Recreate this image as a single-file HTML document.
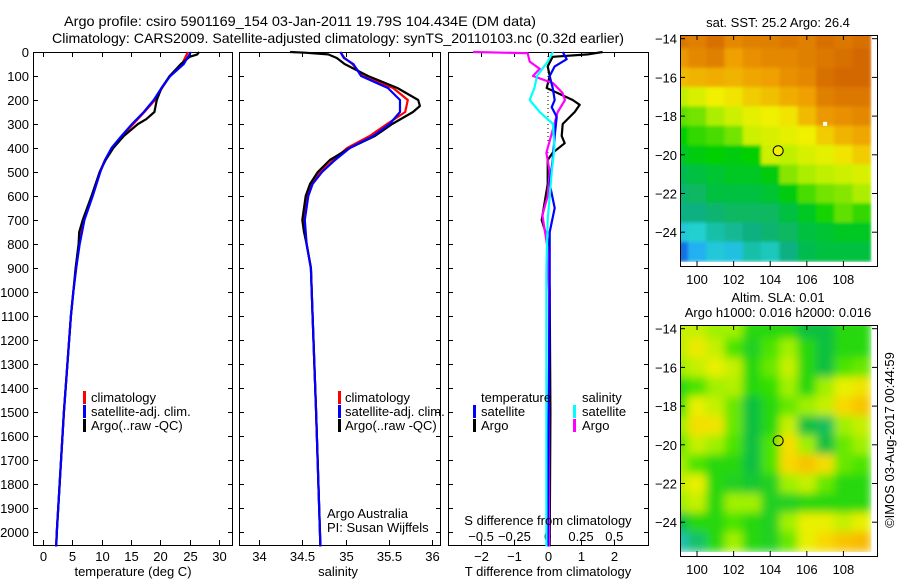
<!DOCTYPE html>
<html><head><meta charset="utf-8"><style>
html,body{margin:0;padding:0;background:#fff;}
svg{display:block;font-family:"Liberation Sans",sans-serif;}
text{font-size:13px;fill:#000;}
</style></head><body>
<svg id="s" width="900" height="580" viewBox="0 0 900 580" xmlns="http://www.w3.org/2000/svg">
<defs>
<filter id="b1" x="0" y="0" width="1" height="1"><feGaussianBlur stdDeviation="1.5" edgeMode="duplicate"/></filter>
<filter id="b2" x="0" y="0" width="1" height="1"><feGaussianBlur stdDeviation="4.5" edgeMode="duplicate"/></filter>
<clipPath id="cm1"><rect x="680" y="35" width="197" height="231"/></clipPath>
<clipPath id="cm2"><rect x="680" y="325" width="197" height="231"/></clipPath>
</defs>
<text x="300" y="26" text-anchor="middle" textLength="472" lengthAdjust="spacingAndGlyphs" style="font-size:14px">Argo profile: csiro 5901169_154 03-Jan-2011 19.79S 104.434E (DM data)</text>
<text x="338" y="43" text-anchor="middle" textLength="572" lengthAdjust="spacingAndGlyphs" style="font-size:14px">Climatology: CARS2009. Satellite-adjusted climatology: synTS_20110103.nc (0.32d earlier)</text>
<g id="g"></g>
</svg>
<script>
// ---- data ----
const depthTicks=[0,100,200,300,400,500,600,700,800,900,1000,1100,1200,1300,1400,1500,1600,1700,1800,1900,2000];
const tempTicks=[0,5,10,15,20,25,30];
const salTicks=[34,34.5,35,35.5,36];
const tdTicks=[-2,-1,0,1,2];
const sdTicks=[-0.5,-0.25,0,0.25,0.5];
const climTDepth=[0,50,100,150,200,250,300,350,400,450,500,600,700,800,900,1000,1100,1500,2000,2060];
const climTemp=[24.7,23.7,21.6,20.3,19.1,17.3,15.4,13.5,11.8,10.6,9.7,8.4,6.9,6.2,5.7,5.2,4.8,3.6,2.4,2.3];
const satTemp=[25.2,24.0,21.7,20.2,18.9,17.2,15.2,13.4,11.7,10.6,9.8,8.5,7.1,6.3,5.7,5.2,4.8,3.6,2.4,2.3];
const argoTDepth=[0,10,20,50,100,150,200,250,280,300,350,400,450,500,600,700,750,800,900,1000,1100,1500,2000,2060];
const argoTemp=[26.6,26.3,25.0,23.5,21.6,20.2,19.4,19.0,17.6,16.2,13.8,12.0,10.7,9.7,8.3,6.8,6.2,6.1,5.6,5.2,4.8,3.6,2.4,2.3];
const climSDepth=[0,25,50,100,150,200,250,300,350,400,450,500,550,600,700,800,900,1100,1500,2060];
const climSal=[34.94,34.99,35.08,35.20,35.55,35.72,35.69,35.48,35.28,35.02,34.86,34.71,34.61,34.55,34.52,34.55,34.60,34.62,34.66,34.71];
const satSal=[34.94,34.98,35.09,35.18,35.49,35.63,35.63,35.51,35.32,35.05,34.88,34.73,34.62,34.57,34.53,34.55,34.60,34.62,34.66,34.71];
const argoSDepth=[0,3,10,25,50,100,150,200,225,250,300,350,400,450,500,550,600,700,750,800,900,1100,1500,2060];
const argoSal=[34.36,34.53,34.80,34.90,34.99,35.26,35.60,35.84,35.86,35.78,35.54,35.34,35.05,34.82,34.68,34.59,34.54,34.50,34.52,34.55,34.60,34.62,34.66,34.71];
const tdArgoDepth=[0,10,20,60,100,150,200,220,250,300,350,380,420,450,550,650,700,780,1000,1500,2060];
const tdArgo=[1.65,1.2,0.15,0,0.06,-0.03,0.75,0.96,0.81,0.45,0.42,0.51,0.15,0,0,-0.12,-0.18,0,0.06,0.08,0.06];
const tdSatDepth=[0,30,60,100,150,200,230,270,350,450,550,650,750,1000,1500,2060];
const tdSat=[0.45,0.57,0.21,0.06,0.15,0.21,0.12,0.27,0.21,0.15,0.06,0.21,0.06,0.06,0.03,0.0];
const sdArgoDepth=[0,5,40,70,100,130,170,200,250,300,400,420,500,600,680,750,820,1000,1500,2060];
const sdArgo=[-0.56,-0.15,-0.135,-0.06,-0.11,0.04,0.11,0.13,0.075,0.05,0,-0.01,0.015,0,-0.04,-0.02,0,0.01,0.01,0.01];
const sdSatDepth=[0,40,100,150,200,250,300,400,500,700,900,1500,2060];
const sdSat=[0.04,0,-0.08,-0.1,-0.135,-0.06,0.04,0.05,0.03,0,-0.01,-0.01,-0.01];
const latTicks=[-14,-16,-18,-20,-22,-24];
const lonTicks=[100,102,104,106,108];
// SST grid rows lat -14..-25 (1 deg), cols lon 99..109
const sstGrid=[
[27.1,27.0,27.2,26.9,27.0,27.0,27.1,27.0,27.2,27.1,27.2],
[26.7,26.9,27.0,26.6,26.8,26.9,26.9,27.0,27.1,27.2,27.3],
[26.2,26.3,26.4,26.3,26.5,26.6,26.8,26.9,27.2,27.3,27.3],
[25.3,25.5,25.7,25.8,26.0,26.1,26.4,26.6,27.0,27.1,27.1],
[24.8,24.9,25.2,25.4,25.6,25.7,25.8,26.2,26.7,26.8,26.9],
[24.4,24.6,24.7,24.9,25.4,25.5,25.6,25.7,26.0,26.3,26.5],
[24.2,24.3,24.4,24.3,24.4,25.4,25.3,25.5,25.6,25.8,26.0],
[23.9,24.0,24.1,24.2,24.2,24.3,25.0,25.2,25.3,25.4,25.5],
[23.7,23.8,24.0,24.0,24.0,24.1,24.3,24.7,24.9,25.0,25.2],
[23.6,23.6,23.7,23.8,23.8,23.8,24.0,24.2,24.5,24.8,24.6],
[23.1,23.2,23.4,23.5,23.6,23.7,23.8,24.0,24.1,24.2,24.2],
[22.4,22.8,23.1,23.0,23.4,23.3,23.6,23.9,24.0,24.0,24.0]];
const slaGrid=[
[1.0,1.0,0.8,0.8,0.3,0.3,0.3,0.0,0.0,0.3,0.3],
[1.0,1.3,1.0,0.5,0.2,0.5,0.8,0.3,0.0,0.3,0.3],
[0.8,1.0,1.2,1.0,0.3,0.6,1.0,0.3,0.0,0.5,0.6],
[0.3,0.5,0.8,0.9,0.3,0.4,0.8,0.3,0.8,1.2,1.4],
[0.5,1.2,1.0,0.6,0.0,0.3,0.6,0.8,1.0,1.6,1.8],
[0.8,1.5,1.4,0.6,0.0,0.3,1.0,0.0,-0.2,0.8,1.0],
[0.6,1.0,0.8,0.5,0.0,0.5,1.5,0.8,0.0,0.6,0.8],
[0.8,0.5,0.3,0.3,0.0,0.5,1.6,1.8,1.5,0.6,0.5],
[1.0,1.2,0.3,0.2,0.1,0.2,0.8,1.0,0.6,0.3,0.3],
[0.8,1.0,0.3,0.8,0.8,0.2,0.2,0.3,0.3,0.3,0.3],
[0.0,0.3,0.3,0.5,0.3,0.2,0.8,1.2,1.2,1.0,1.2],
[-0.8,-0.3,0.3,0.8,0.3,0.2,0.6,1.2,1.6,1.8,1.9]];

// ---- helpers ----
const NS='http://www.w3.org/2000/svg';
const G=document.getElementById('g');
function mk(tag,at,parent){const e=document.createElementNS(NS,tag);for(const k in at)e.setAttribute(k,at[k]);(parent||G).appendChild(e);return e;}
function txt(x,y,s,anchor,extra){const e=mk('text',Object.assign({x:x,y:y,'text-anchor':anchor||'start'},extra||{}));e.textContent=s;return e;}
const TOP=52,BOT=545;
const yD=d=>TOP+d*0.24;
const xT=v=>42.7+v*5.88;
const xS=v=>259+(v-34)*86.5;
const xTD=v=>547.7+v*33.3;
const xSD=v=>547.7+v*133.2;
function line(xs,ds,fx,col,name){
  const pts=xs.map((v,i)=>fx(v).toFixed(1)+','+yD(ds[i]).toFixed(1)).join(' ');
  const p=mk('polyline',{points:pts,fill:'none',stroke:col,'stroke-width':2.2,'stroke-linejoin':'round'});
  
  
}
function frame(x0,x1,name){
  const r=mk('rect',{x:x0+0.5,y:TOP+0.5,width:x1-x0,height:BOT-TOP,fill:'none',stroke:'#000','stroke-width':1});
  
  
  depthTicks.forEach(d=>{mk('line',{x1:x0,x2:x0+5,y1:yD(d)+0.5,y2:yD(d)+0.5,stroke:'#000'});mk('line',{x1:x1-4,x2:x1+1,y1:yD(d)+0.5,y2:yD(d)+0.5,stroke:'#000'});});
}
function xticks(vals,fx,labY,fmt,name){
  vals.forEach(v=>{const x=Math.round(fx(v))+0.5;
    mk('line',{x1:x,x2:x,y1:BOT,y2:BOT-5,stroke:'#000'});mk('line',{x1:x,x2:x,y1:TOP,y2:TOP+5,stroke:'#000'});
    const t=txt(x,labY,fmt?fmt(v):String(v),'middle');
    
    });
}
depthTicks.forEach(d=>{const t=txt(29,yD(d)+5,String(d),'end');
  
  });

// temperature panel
frame(33,232,'temperature-panel-frame');
xticks(tempTicks,xT,561,null,'temperature-tick-label');
line(climTemp,climTDepth,xT,'#f00','temperature-climatology-line');
line(argoTemp,argoTDepth,xT,'#000','temperature-argo-line');
line(satTemp,climTDepth,xT,'#00f','temperature-satellite-line');
{const t=txt(133,576,'temperature (deg C)','middle');}

// salinity panel
frame(239,440,'salinity-panel-frame');
xticks(salTicks,xS,561,null,'salinity-tick-label');
line(climSal,climSDepth,xS,'#f00','salinity-climatology-line');
line(argoSal,argoSDepth,xS,'#000','salinity-argo-line');
line(satSal,climSDepth,xS,'#00f','salinity-satellite-line');
{const t=txt(338,576,'salinity','middle');}

function leg(mx,tx,y,col,label,name){
  const r=mk('rect',{x:mx,y:y-11,width:3,height:13,fill:col});
  
  
  const t=txt(tx,y,label,'start');
  
  
}
leg(83,91,402,'#f00','climatology','temp-legend-climatology');
leg(83,91,416,'#00f','satellite-adj. clim.','temp-legend-satellite');
leg(83,91,430,'#000','Argo(..raw -QC)','temp-legend-argo');
leg(338,345,402,'#f00','climatology','sal-legend-climatology');
leg(338,345,416,'#00f','satellite-adj. clim.','sal-legend-satellite');
leg(338,345,430,'#000','Argo(..raw -QC)','sal-legend-argo');
{const t=txt(327,518,'Argo Australia');}
{const t=txt(327,532,'PI: Susan Wijffels');}

// difference panel
frame(448,648,'difference-panel-frame');
xticks(tdTicks,xTD,561,v=>v<0?'\u2212'+(-v):String(v),'t-difference-tick-label');
sdTicks.forEach(v=>{const t=txt(xSD(v),541,v<0?'\u2212'+(-v):String(v),'middle');});
mk('line',{x1:548,x2:548,y1:TOP,y2:yD(420),stroke:'#000','stroke-dasharray':'1,3'});
line(tdArgo,tdArgoDepth,xTD,'#000','t-difference-argo-line');
line(sdArgo,sdArgoDepth,xSD,'#f0f','s-difference-argo-line');
line(tdSat,tdSatDepth,xTD,'#00f','t-difference-satellite-line');
line(sdSat,sdSatDepth,xSD,'#0ff','s-difference-satellite-line');
{const t=txt(548,525,'S difference from climatology','middle');}
{const t=txt(548,576,'T difference from climatology','middle');}
{const t=txt(481,402,'temperature');}
{const t=txt(582,402,'salinity');}
leg(473,481,416,'#00f','satellite','diff-legend-temp-satellite');
leg(473,481,430,'#000','Argo','diff-legend-temp-argo');
leg(573,582,416,'#0ff','satellite','diff-legend-sal-satellite');
leg(573,582,430,'#f0f','Argo','diff-legend-sal-argo');

// ---- maps ----
function lerpCol(stops,v){
  if(v<=stops[0][0])return 'rgb('+stops[0][1].join(',')+')';
  for(let i=1;i<stops.length;i++){if(v<=stops[i][0]){const a=stops[i-1],b=stops[i],t=(v-a[0])/(b[0]-a[0]);
    return 'rgb('+[0,1,2].map(k=>Math.round(a[1][k]+(b[1][k]-a[1][k])*t)).join(',')+')';}}
  return 'rgb('+stops[stops.length-1][1].join(',')+')';
}
const sstStops=[[22.3,[16,96,224]],[22.8,[32,176,240]],[23.2,[32,208,208]],[23.6,[16,176,128]],[24.0,[0,192,64]],[24.4,[0,208,0]],[24.8,[96,224,0]],[25.3,[192,240,0]],[25.7,[240,240,0]],[26.1,[240,192,0]],[26.6,[240,160,0]],[27.0,[224,128,0]],[27.4,[208,96,0]]];
const slaStops=[[-0.8,[32,192,176]],[0,[16,192,64]],[0.4,[48,224,0]],[0.8,[160,240,0]],[1.2,[232,240,0]],[1.6,[248,216,0]],[2.0,[248,176,0]]];
const lonX=l=>680+(l-99.07)*18.3;
function latY(lat,top){return top+3.7+(-14-lat)*19.35;}
function drawMap(grid,stops,top,clip,filt,name){
  const g=mk('g',{'clip-path':'url(#'+clip+')'});
  const inner=mk('g',{filter:'url(#'+filt+')'},g);
  grid.forEach((row,r)=>row.forEach((v,c)=>{
    const x0=lonX(98.5+c),x1=lonX(99.5+c),y0=latY(-13.5-r,top),y1=latY(-14.5-r,top);
    const cell=mk('rect',{x:x0,y:y0,width:x1-x0+0.6,height:y1-y0+0.6,fill:lerpCol(stops,v)},inner);
    
    
  }));
  const f=mk('rect',{x:680.5,y:top+0.5,width:197,height:231,fill:'none',stroke:'#000'});
  
  
  latTicks.forEach(l=>{const y=latY(l,top);
    mk('line',{x1:680,x2:685,y1:y,y2:y,stroke:'#000'});mk('line',{x1:872,x2:877,y1:y,y2:y,stroke:'#000'});
    const t=txt(677,y+5,'\u2212'+(-l),'end');});
  lonTicks.forEach(l=>{const x=lonX(l);
    mk('line',{x1:x,x2:x,y1:top,y2:top+5,stroke:'#000'});mk('line',{x1:x,x2:x,y1:top+226,y2:top+231,stroke:'#000'});
    const t=txt(x,top+249,String(l),'middle');});
}
drawMap(sstGrid,sstStops,35,'cm1','b1','sst-map');
drawMap(slaGrid,slaStops,325,'cm2','b2','sla-map');
{const w=mk('rect',{x:lonX(107)-2,y:latY(-18.4,35)-2,width:4,height:4,fill:'#fff'});}
{const c=mk('circle',{cx:lonX(104.434),cy:latY(-19.79,35),r:5,fill:'#f0f000',stroke:'#000'});}
{const c=mk('circle',{cx:lonX(104.434),cy:latY(-19.79,325),r:5,fill:'none',stroke:'#000'});}
{const t=txt(778,27,'sat. SST: 25.2 Argo: 26.4','middle');}
{const t=txt(778,302,'Altim. SLA: 0.01','middle');}
{const t=txt(778,317,'Argo h1000: 0.016 h2000: 0.016','middle');}
{const t=txt(0,0,'\u00a9IMOS 03-Aug-2017 00:44:59','middle',{transform:'translate(894,440) rotate(-90)'});}
</script>
</body></html>
